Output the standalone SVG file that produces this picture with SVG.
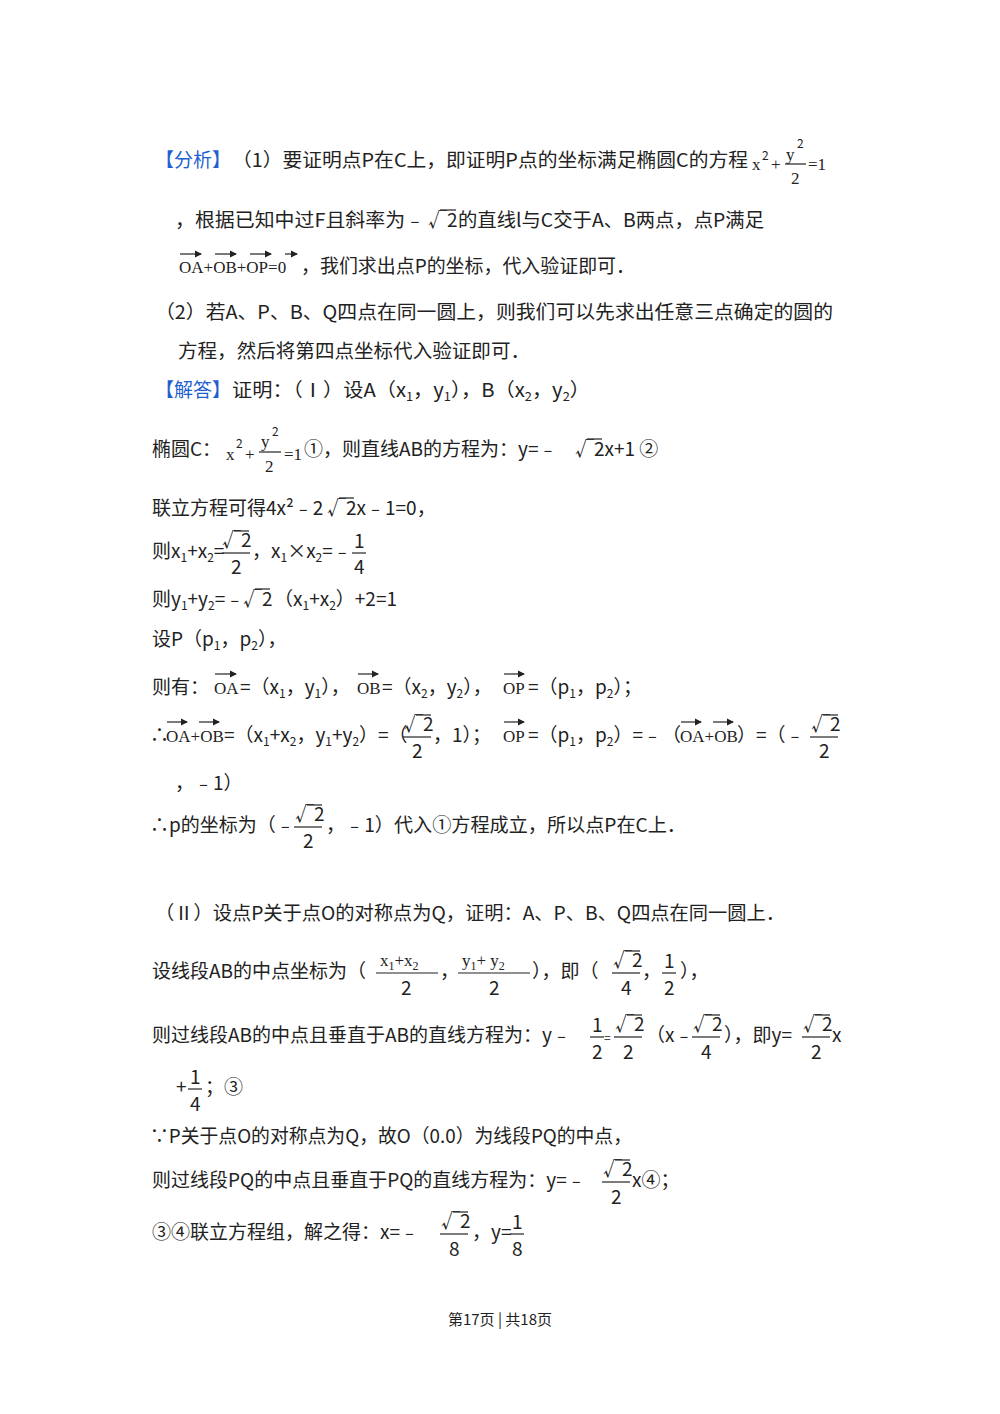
<svg xmlns="http://www.w3.org/2000/svg" width="1000" height="1414" viewBox="0 0 1000 1414">
<style>
text{font-family:"Noto Sans CJK SC","Liberation Sans",sans-serif;font-size:19px;fill:#222}
.b{fill:#1f5fd0}
.s{font-size:12px}
.m{font-family:"Liberation Serif","Noto Sans CJK SC",serif;font-size:17px}
line{stroke:#222;stroke-width:1.2}
.f{font-size:15px}
</style>
<rect width="1000" height="1414" fill="#fff"/>
<defs>
<marker id="a" markerWidth="6" markerHeight="6" refX="5" refY="3" orient="auto"><path d="M0,0L6,3L0,6z" fill="#222"/></marker>
</defs>
<text x="155" y="167" class="b">【分析】</text>
<text x="232" y="167" textLength="516" lengthAdjust="spacingAndGlyphs">（1）要证明点P在C上，即证明P点的坐标满足椭圆C的方程</text>
<text x="752" y="170" class="m">x</text><text x="762" y="160" class="s">2</text><text x="771" y="170" class="m">+</text>
<text x="786" y="160" class="m">y</text><text x="797" y="148" class="s">2</text><line x1="785" y1="164" x2="806" y2="164"/><text x="791" y="184" class="m">2</text>
<text x="808" y="170" class="m">=1</text>
<text x="175" y="227" textLength="250" lengthAdjust="spacingAndGlyphs">，根据已知中过F且斜率为﹣</text>
<text x="428" y="227">√2</text><line x1="440" y1="210" x2="456" y2="210"/>
<text x="458" y="227" textLength="306" lengthAdjust="spacingAndGlyphs">的直线l与C交于A、B两点，点P满足</text>
<text x="179" y="273" class="m">OA+OB+OP=0</text>
<line x1="180" y1="254" x2="201" y2="254" marker-end="url(#a)"/>
<line x1="215" y1="254" x2="236" y2="254" marker-end="url(#a)"/>
<line x1="250" y1="254" x2="271" y2="254" marker-end="url(#a)"/>
<line x1="285" y1="254" x2="297" y2="254" marker-end="url(#a)"/>
<text x="301" y="273" textLength="334" lengthAdjust="spacingAndGlyphs">，我们求出点P的坐标，代入验证即可．</text>
<text x="155" y="319" textLength="678" lengthAdjust="spacingAndGlyphs">（2）若A、P、B、Q四点在同一圆上，则我们可以先求出任意三点确定的圆的</text>
<text x="178" y="358" textLength="352" lengthAdjust="spacingAndGlyphs">方程，然后将第四点坐标代入验证即可．</text>
<text x="155" y="397" class="b">【解答】</text>
<text x="232" y="397" textLength="358" lengthAdjust="spacingAndGlyphs">证明：（Ⅰ）设A（x<tspan class="s" dy="4">1</tspan><tspan dy="-4">，y</tspan><tspan class="s" dy="4">1</tspan><tspan dy="-4">），B（x</tspan><tspan class="s" dy="4">2</tspan><tspan dy="-4">，y</tspan><tspan class="s" dy="4">2</tspan><tspan dy="-4">）</tspan></text>
<text x="152" y="456">椭圆C：</text>
<text x="226" y="460" class="m">x</text><text x="236" y="448" class="s">2</text><text x="245" y="460" class="m">+</text>
<text x="261" y="447" class="m">y</text><text x="272" y="436" class="s">2</text><line x1="259" y1="452" x2="281" y2="452"/><text x="265" y="472" class="m">2</text>
<text x="284" y="460" class="m">=1</text><text x="304" y="456">①，则直线AB的方程为：y=﹣</text>
<text x="575" y="456">√2x+1 ②</text><line x1="587" y1="439" x2="602" y2="439"/>
<text x="152" y="515">联立方程可得4x²﹣2</text><text x="327" y="515">√2x﹣1=0，</text><line x1="339" y1="498" x2="354" y2="498"/>
<text x="152" y="558">则x<tspan class="s" dy="4">1</tspan><tspan dy="-4">+x</tspan><tspan class="s" dy="4">2</tspan><tspan dy="-4">=</tspan></text>
<text x="222" y="547">√2</text><line x1="234" y1="531" x2="249" y2="531"/><line x1="222" y1="553" x2="250" y2="553"/><text x="231" y="574">2</text>
<text x="252" y="558">，x<tspan class="s" dy="4">1</tspan><tspan dy="-4">×x</tspan><tspan class="s" dy="4">2</tspan><tspan dy="-4">=﹣</tspan></text>
<text x="354" y="548">1</text><line x1="352" y1="553" x2="366" y2="553"/><text x="354" y="574">4</text>
<text x="152" y="606">则y<tspan class="s" dy="4">1</tspan><tspan dy="-4">+y</tspan><tspan class="s" dy="4">2</tspan><tspan dy="-4">=﹣</tspan></text>
<text x="243" y="606">√2</text><line x1="255" y1="589" x2="270" y2="589"/>
<text x="274" y="606">（x<tspan class="s" dy="4">1</tspan><tspan dy="-4">+x</tspan><tspan class="s" dy="4">2</tspan><tspan dy="-4">）+2=1</tspan></text>
<text x="152" y="646">设P（p<tspan class="s" dy="4">1</tspan><tspan dy="-4">，p</tspan><tspan class="s" dy="4">2</tspan><tspan dy="-4">），</tspan></text>
<text x="152" y="694">则有：</text>
<text x="214" y="694" class="m">OA</text><line x1="215" y1="674" x2="236" y2="674" marker-end="url(#a)"/>
<text x="240" y="694">=（x<tspan class="s" dy="4">1</tspan><tspan dy="-4">，y</tspan><tspan class="s" dy="4">1</tspan><tspan dy="-4">），</tspan></text>
<text x="357" y="694" class="m">OB</text><line x1="358" y1="674" x2="378" y2="674" marker-end="url(#a)"/>
<text x="382" y="694">=（x<tspan class="s" dy="4">2</tspan><tspan dy="-4">，y</tspan><tspan class="s" dy="4">2</tspan><tspan dy="-4">），</tspan></text>
<text x="503" y="694" class="m">OP</text><line x1="504" y1="674" x2="524" y2="674" marker-end="url(#a)"/>
<text x="528" y="694">=（p<tspan class="s" dy="4">1</tspan><tspan dy="-4">，p</tspan><tspan class="s" dy="4">2</tspan><tspan dy="-4">）；</tspan></text>
<text x="150" y="742">∴</text>
<text x="166" y="742" class="m">OA+OB</text><line x1="167" y1="722" x2="187" y2="722" marker-end="url(#a)"/><line x1="199" y1="722" x2="219" y2="722" marker-end="url(#a)"/>
<text x="224" y="742">=（x<tspan class="s" dy="4">1</tspan><tspan dy="-4">+x</tspan><tspan class="s" dy="4">2</tspan><tspan dy="-4">，y</tspan><tspan class="s" dy="4">1</tspan><tspan dy="-4">+y</tspan><tspan class="s" dy="4">2</tspan><tspan dy="-4">）=（</tspan></text>
<text x="404" y="731">√2</text><line x1="416" y1="715" x2="431" y2="715"/><line x1="403" y1="737" x2="431" y2="737"/><text x="412" y="758">2</text>
<text x="433" y="742">，1）；</text>
<text x="503" y="742" class="m">OP</text><line x1="504" y1="722" x2="524" y2="722" marker-end="url(#a)"/>
<text x="528" y="742">=（p<tspan class="s" dy="4">1</tspan><tspan dy="-4">，p</tspan><tspan class="s" dy="4">2</tspan><tspan dy="-4">）=﹣（</tspan></text>
<text x="680" y="742" class="m">OA+OB</text><line x1="681" y1="722" x2="701" y2="722" marker-end="url(#a)"/><line x1="713" y1="722" x2="733" y2="722" marker-end="url(#a)"/>
<text x="737" y="742">）=（﹣</text>
<text x="811" y="731">√2</text><line x1="823" y1="715" x2="838" y2="715"/><line x1="810" y1="737" x2="838" y2="737"/><text x="819" y="758">2</text>
<text x="175" y="790">，﹣1）</text>
<text x="150" y="832">∴p的坐标为（﹣</text>
<text x="295" y="821">√2</text><line x1="307" y1="805" x2="322" y2="805"/><line x1="294" y1="827" x2="322" y2="827"/><text x="303" y="848">2</text>
<text x="326" y="832" textLength="360" lengthAdjust="spacingAndGlyphs">，﹣1）代入①方程成立，所以点P在C上．</text>
<text x="155" y="920" textLength="630" lengthAdjust="spacingAndGlyphs">（Ⅱ）设点P关于点O的对称点为Q，证明：A、P、B、Q四点在同一圆上．</text>
<text x="152" y="978">设线段AB的中点坐标为（</text>
<text x="380" y="966" class="m">x<tspan class="s" dy="4">1</tspan><tspan dy="-4">+x</tspan><tspan class="s" dy="4">2</tspan></text><line x1="376" y1="973" x2="438" y2="973"/><text x="401" y="995">2</text>
<text x="440" y="978">，</text>
<text x="462" y="966" class="m">y<tspan class="s" dy="4">1</tspan><tspan dy="-4">+ y</tspan><tspan class="s" dy="4">2</tspan></text><line x1="458" y1="973" x2="530" y2="973"/><text x="489" y="995">2</text>
<text x="532" y="978">），即（</text>
<text x="613" y="967">√2</text><line x1="625" y1="951" x2="640" y2="951"/><line x1="612" y1="973" x2="640" y2="973"/><text x="621" y="995">4</text>
<text x="642" y="978">，</text>
<text x="664" y="968">1</text><line x1="662" y1="973" x2="676" y2="973"/><text x="664" y="995">2</text>
<text x="680" y="978">），</text>
<text x="152" y="1042">则过线段AB的中点且垂直于AB的直线方程为：y﹣</text>
<text x="592" y="1032">1</text><line x1="590" y1="1037" x2="604" y2="1037"/><text x="592" y="1059">2</text>
<text x="604" y="1042" class="s">=</text>
<text x="615" y="1031">√2</text><line x1="627" y1="1015" x2="642" y2="1015"/><line x1="614" y1="1037" x2="642" y2="1037"/><text x="623" y="1059">2</text>
<text x="646" y="1042">（x﹣</text>
<text x="693" y="1031">√2</text><line x1="705" y1="1015" x2="720" y2="1015"/><line x1="692" y1="1037" x2="720" y2="1037"/><text x="701" y="1059">4</text>
<text x="724" y="1042">），即y=</text>
<text x="803" y="1031">√2</text><line x1="815" y1="1015" x2="830" y2="1015"/><line x1="802" y1="1037" x2="830" y2="1037"/><text x="811" y="1059">2</text>
<text x="832" y="1042">x</text>
<text x="176" y="1094">+</text>
<text x="190" y="1084">1</text><line x1="188" y1="1089" x2="202" y2="1089"/><text x="190" y="1111">4</text>
<text x="205" y="1094">；③</text>
<text x="150" y="1143" textLength="482" lengthAdjust="spacingAndGlyphs">∵P关于点O的对称点为Q，故O（0.0）为线段PQ的中点，</text>
<text x="152" y="1187">则过线段PQ的中点且垂直于PQ的直线方程为：y=﹣</text>
<text x="603" y="1176">√2</text><line x1="615" y1="1160" x2="630" y2="1160"/><line x1="602" y1="1182" x2="630" y2="1182"/><text x="611" y="1204">2</text>
<text x="632" y="1187">x④；</text>
<text x="152" y="1239">③④联立方程组，解之得：x=﹣</text>
<text x="441" y="1228">√2</text><line x1="453" y1="1212" x2="468" y2="1212"/><line x1="440" y1="1234" x2="468" y2="1234"/><text x="449" y="1256">8</text>
<text x="472" y="1239">，y=</text>
<text x="512" y="1229">1</text><line x1="510" y1="1234" x2="524" y2="1234"/><text x="512" y="1256">8</text>
<text x="500" y="1325" class="f" text-anchor="middle">第17页 | 共18页</text>
</svg>
